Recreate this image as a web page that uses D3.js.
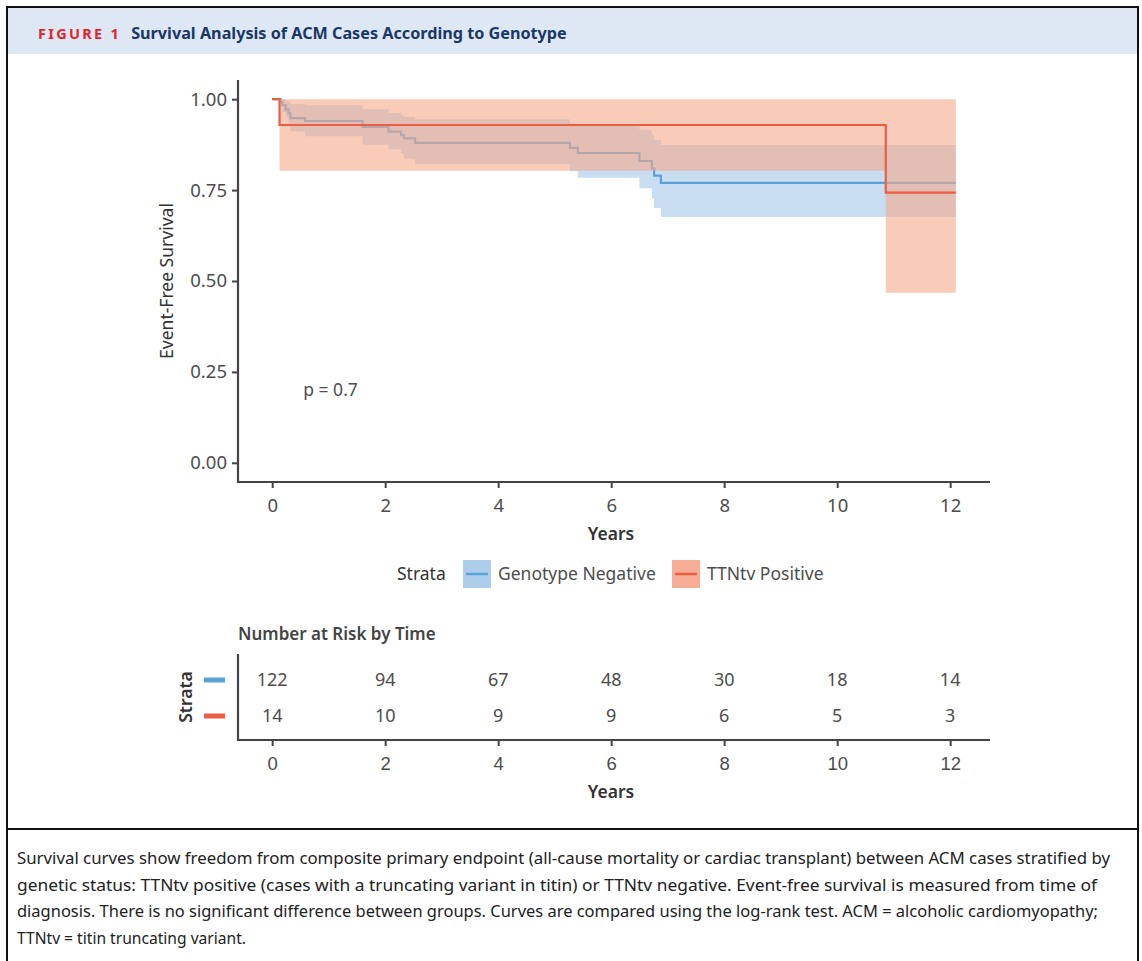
<!DOCTYPE html>
<html>
<head>
<meta charset="utf-8">
<script src="https://cdn.jsdelivr.net/npm/d3@7"></script>
<style>
  body { margin: 0; background: #fff; }
  svg { display: block; font-family: "Noto Sans", "Open Sans", sans-serif; }
</style>
</head>
<body>
<svg id="fig" width="1142" height="961"></svg>
<script>
// groups
const strata = ["Genotype Negative", "TTNtv Positive"];
const strataColors = ["#5aa2d8", "#ec5d45"];

// Kaplan-Meier steps (years, survival, 95% CI)
const negTime  = [0, 0.15, 0.18, 0.24, 0.29, 0.32, 0.58, 1.6, 2.06, 2.28, 2.33, 2.53, 5.27, 5.41, 6.5, 6.72, 6.76, 6.88];
const negSurv  = [1, 0.992, 0.984, 0.972, 0.962, 0.948, 0.94, 0.924, 0.911, 0.901, 0.892, 0.88, 0.866, 0.852, 0.83, 0.81, 0.79, 0.77];
const negUpper = [1, 1, 1, 0.995, 0.99, 0.987, 0.983, 0.972, 0.962, 0.956, 0.951, 0.944, 0.928, 0.928, 0.916, 0.902, 0.888, 0.874];
const negLower = [1, 0.98, 0.965, 0.95, 0.93, 0.911, 0.898, 0.875, 0.862, 0.85, 0.836, 0.822, 0.802, 0.784, 0.755, 0.728, 0.701, 0.676];

const posTime  = [0, 0.13, 10.86];
const posSurv  = [1, 0.929, 0.743];
const posUpper = [1, 1, 1];
const posLower = [1, 0.803, 0.468];

const lastFollowUp = 12.1;

// number at risk
const riskTimes = [0, 2, 4, 6, 8, 10, 12];
const negRisk = [122, 94, 67, 48, 30, 18, 14];
const posRisk = [14, 10, 9, 9, 6, 5, 3];

const yTicks = [0, 0.25, 0.5, 0.75, 1];
const xTicks = [0, 2, 4, 6, 8, 10, 12];
const pValue = "p = 0.7";

const caption = [
  "Survival curves show freedom from composite primary endpoint (all-cause mortality or cardiac transplant) between ACM cases stratified by",
  "genetic status: TTNtv positive (cases with a truncating variant in titin) or TTNtv negative. Event-free survival is measured from time of",
  "diagnosis. There is no significant difference between groups. Curves are compared using the log-rank test. ACM = alcoholic cardiomyopathy;",
  "TTNtv = titin truncating variant."
];

const svg = d3.select("#fig");
const axisCol = "#444";
const tickCol = "#4d4d4d";

// frame and header
svg.append("rect").attr("x", 8).attr("y", 8).attr("width", 1129).attr("height", 46).attr("fill", "#dde8f4");
svg.append("rect").attr("x", 7).attr("y", 7).attr("width", 1131).attr("height", 970)
  .attr("fill", "none").attr("stroke", "#111").attr("stroke-width", 2);
svg.append("line").attr("x1", 7).attr("x2", 1138).attr("y1", 829).attr("y2", 829)
  .attr("stroke", "#111").attr("stroke-width", 2);

const head = svg.append("text").attr("x", 38).attr("y", 39);
head.append("tspan").text("FIGURE 1").attr("fill", "#e3242b").attr("font-weight", 700)
  .attr("font-size", 14.5).attr("letter-spacing", 2.3);
head.append("tspan").text("Survival Analysis of ACM Cases According to Genotype").attr("dx", 10)
  .attr("fill", "#1a3767").attr("font-weight", 700).attr("font-size", 16.2);

// scales (ggplot style 5% expansion)
const x = d3.scaleLinear().domain([-0.605, 12.705]).range([238, 990]);
const y = d3.scaleLinear().domain([-0.05, 1.05]).range([481, 81]);

const g = svg.append("g");

function steps(time, surv, up, lo) {
  const rows = time.map((t, i) => ({ t, s: surv[i], u: up[i], l: lo[i] }));
  rows.push({ t: lastFollowUp, s: surv[surv.length - 1], u: up[up.length - 1], l: lo[lo.length - 1] });
  return rows;
}
const series = [
  { name: strata[0], rows: steps(negTime, negSurv, negUpper, negLower), line: strataColors[0], band: "#c9def2", op: 1 },
  { name: strata[1], rows: steps(posTime, posSurv, posUpper, posLower), line: strataColors[1], band: "#f5a88a", op: 0.6 }
];

const area = d3.area().curve(d3.curveStepAfter).x(d => x(d.t)).y0(d => y(d.l)).y1(d => y(d.u));
const line = d3.line().curve(d3.curveStepAfter).x(d => x(d.t)).y(d => y(d.s));

series.forEach(s => {
  g.append("path").datum(s.rows).attr("d", area).attr("fill", s.band).attr("fill-opacity", s.op);
  g.append("path").datum(s.rows).attr("d", line).attr("fill", "none")
    .attr("stroke", s.line).attr("stroke-width", 2.2);
});

// axes
const yAxis = svg.append("g").attr("transform", "translate(238,0)")
  .call(d3.axisLeft(y).tickValues(yTicks).tickFormat(d3.format(".2f")).tickSize(6).tickPadding(5));
const xAxis = svg.append("g").attr("transform", "translate(0,482)")
  .call(d3.axisBottom(x).tickValues(xTicks).tickSize(6).tickPadding(11));
[yAxis, xAxis].forEach(a => {
  a.select(".domain").attr("stroke", axisCol).attr("stroke-width", 2.2);
  a.selectAll(".tick line").attr("stroke", axisCol).attr("stroke-width", 2);
  a.selectAll("text").attr("fill", tickCol).attr("font-size", 18.5).attr("font-family", "Noto Sans");
});
xAxis.select(".domain").attr("d", "M238,0H990");
yAxis.select(".domain").attr("d", "M0,80V483");

svg.append("text").attr("x", 611).attr("y", 540).attr("text-anchor", "middle")
  .attr("fill", "#333").attr("font-size", 17.5).attr("font-weight", 600).text("Years");
svg.append("text").attr("transform", "translate(173,281) rotate(-90)").attr("text-anchor", "middle")
  .attr("fill", "#333").attr("font-size", 17.5).text("Event-Free Survival");
svg.append("text").attr("x", x(0.55)).attr("y", y(0.2) + 6)
  .attr("fill", tickCol).attr("font-size", 17.5).text(pValue);

// legend
const leg = svg.append("g");
leg.append("text").attr("x", 397).attr("y", 580).attr("fill", "#333").attr("font-size", 17.5).text("Strata");
const keyX = [463, 672];
const keyFill = ["#aecdeb", "#f6ad95"];
strata.forEach((name, i) => {
  leg.append("rect").attr("x", keyX[i]).attr("y", 560).attr("width", 28).attr("height", 28).attr("fill", keyFill[i]);
  leg.append("line").attr("x1", keyX[i] + 3).attr("x2", keyX[i] + 25).attr("y1", 574).attr("y2", 574)
    .attr("stroke", strataColors[i]).attr("stroke-width", 2.5);
  leg.append("text").attr("x", keyX[i] + 35).attr("y", 580).attr("fill", tickCol).attr("font-size", 17.5).text(name);
});

// risk table
svg.append("text").attr("x", 238).attr("y", 640).attr("fill", "#444").attr("font-size", 17)
  .attr("font-weight", 600).text("Number at Risk by Time");
const ry = d3.scalePoint().domain(strata).range([680, 716]);
const rt = svg.append("g");
[negRisk, posRisk].forEach((vals, i) => {
  rt.selectAll(null).data(vals).join("text")
    .attr("x", (d, j) => x(riskTimes[j])).attr("y", ry(strata[i]) + 6)
    .attr("text-anchor", "middle").attr("fill", tickCol).attr("font-size", 18).text(d => d);
  rt.append("line").attr("x1", 204).attr("x2", 225).attr("y1", ry(strata[i])).attr("y2", ry(strata[i]))
    .attr("stroke", strataColors[i]).attr("stroke-width", 5);
});
const rAxis = svg.append("g").attr("transform", "translate(0,740)")
  .call(d3.axisBottom(x).tickValues(xTicks).tickSize(6).tickPadding(11));
rAxis.select(".domain").attr("d", "M238,0H990").attr("stroke", axisCol).attr("stroke-width", 2.2);
rAxis.selectAll(".tick line").attr("stroke", axisCol).attr("stroke-width", 2);
rAxis.selectAll("text").attr("fill", tickCol).attr("font-size", 18.5);
svg.append("line").attr("x1", 238).attr("x2", 238).attr("y1", 654).attr("y2", 741)
  .attr("stroke", axisCol).attr("stroke-width", 2.2);
svg.append("text").attr("x", 611).attr("y", 798).attr("text-anchor", "middle")
  .attr("fill", "#333").attr("font-size", 17.5).attr("font-weight", 600).text("Years");
svg.append("text").attr("transform", "translate(192,697) rotate(-90)").attr("text-anchor", "middle")
  .attr("fill", "#333").attr("font-size", 17.5).attr("font-weight", 600).text("Strata");

// caption
const capWidths = [1093, 1080, 1081, 229];
svg.append("g").selectAll("text").data(caption).join("text")
  .attr("x", 17).attr("y", (d, i) => 864 + i * 26.7)
  .attr("fill", "#222").attr("font-size", 16)
  .attr("textLength", (d, i) => capWidths[i]).attr("lengthAdjust", "spacingAndGlyphs")
  .text(d => d);
</script>
</body>
</html>
